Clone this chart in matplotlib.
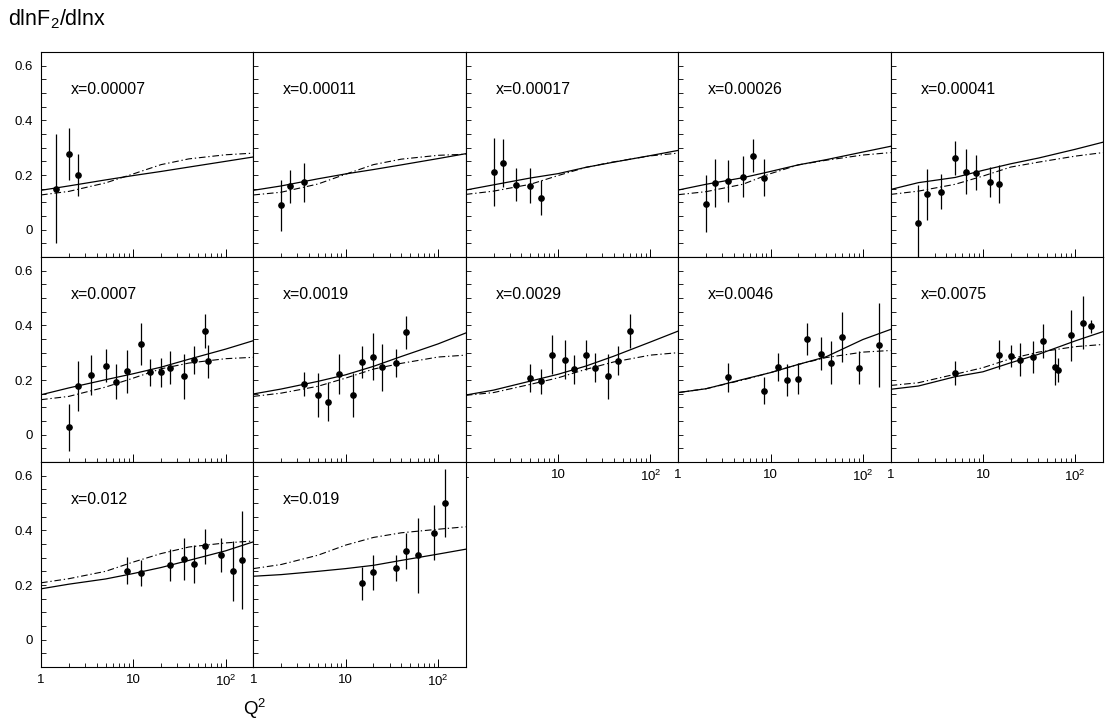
import matplotlib
matplotlib.use("Agg")
from matplotlib import pyplot as plt
from matplotlib.ticker import FixedLocator, LogLocator, MultipleLocator, NullFormatter

plt.rcParams['font.family'] = ['Liberation Sans', 'DejaVu Sans']
plt.rcParams['mathtext.fontset'] = 'custom'
plt.rcParams['mathtext.rm'] = 'Liberation Sans'
plt.rcParams['mathtext.it'] = 'Liberation Sans:italic'

# Panel labels (x values)
x_labels = ["x=0.00007", "x=0.00011", "x=0.00017", "x=0.00026", "x=0.00041",
            "x=0.0007", "x=0.0019", "x=0.0029", "x=0.0046", "x=0.0075",
            "x=0.012", "x=0.019"]

# Data points: Q2, dlnF2/dlnx, error
q_points = [
    [1.45, 2.0, 2.5],
    [2.0, 2.5, 3.5],
    [2.0, 2.5, 3.5, 5.0, 6.5],
    [2.0, 2.5, 3.5, 5.0, 6.5, 8.5],
    [2.0, 2.5, 3.5, 5.0, 6.5, 8.5, 12, 15],
    [2, 2.5, 3.5, 5, 6.5, 8.5, 12, 15, 20, 25, 35, 45, 60, 65],
    [3.5, 5, 6.5, 8.5, 12, 15, 20, 25, 35, 45],
    [5, 6.5, 8.5, 12, 15, 20, 25, 35, 45, 60],
    [3.5, 8.5, 12, 15, 20, 25, 35, 45, 60, 90, 150],
    [5, 15, 20, 25, 35, 45, 60, 65, 90, 120, 150],
    [8.5, 12, 25, 35, 45, 60, 90, 120, 150],
    [15, 20, 35, 45, 60, 90, 120],
]
f_points = [
    [0.15, 0.277, 0.201],
    [0.089, 0.158, 0.173],
    [0.212, 0.243, 0.165, 0.161, 0.117],
    [0.095, 0.172, 0.177, 0.194, 0.271, 0.19],
    [0.023, 0.129, 0.139, 0.263, 0.212, 0.208, 0.175, 0.167],
    [0.028, 0.177, 0.217, 0.253, 0.193, 0.232, 0.332, 0.228, 0.228, 0.245, 0.213, 0.272, 0.38, 0.268],
    [0.185, 0.144, 0.121, 0.221, 0.146, 0.266, 0.285, 0.246, 0.262, 0.374],
    [0.208, 0.195, 0.293, 0.275, 0.239, 0.293, 0.244, 0.213, 0.271, 0.379],
    [0.21, 0.161, 0.247, 0.199, 0.205, 0.349, 0.296, 0.263, 0.357, 0.245, 0.328],
    [0.227, 0.293, 0.289, 0.275, 0.284, 0.344, 0.247, 0.236, 0.363, 0.41, 0.397],
    [0.253, 0.245, 0.273, 0.294, 0.278, 0.341, 0.31, 0.251, 0.292],
    [0.206, 0.246, 0.262, 0.325, 0.309, 0.392, 0.499],
]
f_errors = [
    [0.20, 0.095, 0.077],
    [0.093, 0.06, 0.071],
    [0.125, 0.087, 0.06, 0.065, 0.065],
    [0.104, 0.088, 0.077, 0.075, 0.06, 0.068],
    [0.14, 0.092, 0.064, 0.063, 0.082, 0.064, 0.055, 0.068],
    [0.086, 0.092, 0.073, 0.059, 0.064, 0.078, 0.077, 0.05, 0.053, 0.061, 0.082, 0.051, 0.062, 0.06],
    [0.045, 0.08, 0.07, 0.074, 0.08, 0.057, 0.086, 0.085, 0.05, 0.061],
    [0.051, 0.045, 0.07, 0.073, 0.052, 0.055, 0.053, 0.081, 0.052, 0.061],
    [0.053, 0.049, 0.05, 0.058, 0.056, 0.059, 0.06, 0.078, 0.092, 0.06, 0.154],
    [0.044, 0.052, 0.04, 0.06, 0.058, 0.062, 0.066, 0.045, 0.093, 0.097, 0.024],
    [0.048, 0.048, 0.06, 0.077, 0.07, 0.063, 0.062, 0.11, 0.18],
    [0.06, 0.065, 0.049, 0.066, 0.137, 0.1, 0.124],
]

# Model curves read at these Q2 values
curve_q = [1, 2, 5, 10, 20, 40, 100, 200]
solid_vals = [
    [0.144, 0.16, 0.182, 0.198, 0.213, 0.229, 0.25, 0.266],
    [0.144, 0.16, 0.186, 0.204, 0.22, 0.237, 0.26, 0.278],
    [0.145, 0.164, 0.189, 0.205, 0.228, 0.247, 0.271, 0.29],
    [0.145, 0.166, 0.19, 0.213, 0.237, 0.256, 0.284, 0.305],
    [0.147, 0.172, 0.191, 0.217, 0.241, 0.262, 0.294, 0.32],
    [0.146, 0.171, 0.201, 0.223, 0.247, 0.276, 0.313, 0.344],
    [0.149, 0.167, 0.195, 0.219, 0.25, 0.286, 0.332, 0.372],
    [0.145, 0.163, 0.196, 0.221, 0.251, 0.287, 0.339, 0.379],
    [0.154, 0.168, 0.202, 0.227, 0.257, 0.285, 0.348, 0.385],
    [0.166, 0.178, 0.212, 0.23, 0.263, 0.294, 0.343, 0.377],
    [0.186, 0.203, 0.222, 0.242, 0.264, 0.29, 0.325, 0.358],
    [0.232, 0.238, 0.25, 0.26, 0.272, 0.29, 0.313, 0.331],
]
dashdot_vals = [
    [0.127, 0.14, 0.171, 0.204, 0.238, 0.259, 0.274, 0.28],
    [0.127, 0.137, 0.167, 0.203, 0.238, 0.258, 0.272, 0.276],
    [0.129, 0.141, 0.166, 0.198, 0.228, 0.248, 0.27, 0.28],
    [0.128, 0.139, 0.166, 0.205, 0.237, 0.254, 0.273, 0.282],
    [0.129, 0.141, 0.166, 0.196, 0.229, 0.247, 0.269, 0.282],
    [0.128, 0.14, 0.174, 0.207, 0.241, 0.262, 0.278, 0.283],
    [0.14, 0.152, 0.177, 0.207, 0.24, 0.261, 0.284, 0.291],
    [0.144, 0.154, 0.184, 0.208, 0.239, 0.266, 0.291, 0.3],
    [0.154, 0.168, 0.2, 0.227, 0.257, 0.282, 0.302, 0.308],
    [0.18, 0.19, 0.221, 0.245, 0.278, 0.302, 0.322, 0.33],
    [0.208, 0.223, 0.25, 0.284, 0.315, 0.339, 0.354, 0.361],
    [0.26, 0.275, 0.309, 0.346, 0.374, 0.391, 0.404, 0.413],
]

y_ticks = [0, 0.2, 0.4, 0.6]
y_ticklabels = ["0", "0.2", "0.4", "0.6"]
x_ticks = [1, 10, 100]
x_ticklabels = ["1", "10", "$10^2$"]

# Layout (pixels)
W, H = 1105, 720
LEFT, TOP = 41, 52
PW, PH = 212.4, 205

fig = plt.figure(figsize=(W / 100, H / 100), dpi=100)

for i in range(12):
    row, col = divmod(i, 5)
    ax = fig.add_axes([(LEFT + col * PW) / W, 1 - (TOP + (row + 1) * PH) / H, PW / W, PH / H])
    ax.set_xscale('log')

    ax.plot(curve_q, solid_vals[i], color='black', lw=0.9)
    ax.plot(curve_q, dashdot_vals[i], color='black', lw=0.8, dashes=[6, 2.5, 1.2, 2.5])
    ax.errorbar(q_points[i], f_points[i], yerr=f_errors[i], fmt='o', color='black',
                ms=3.8, elinewidth=0.9, capsize=0)

    ax.set_xlim(1, 200)
    ax.set_ylim(-0.1, 0.65)
    ax.text(0.14, 0.794, x_labels[i], transform=ax.transAxes, fontsize=11.5, va='baseline')

    ax.xaxis.set_major_locator(FixedLocator(x_ticks))
    ax.xaxis.set_minor_locator(LogLocator(base=10, subs=range(2, 10)))
    ax.xaxis.set_minor_formatter(NullFormatter())
    ax.set_yticks(y_ticks)
    ax.yaxis.set_minor_locator(MultipleLocator(0.05))

    bottom = (row == 2) or (row == 1 and col >= 2)
    if bottom:
        ax.set_xticklabels(x_ticklabels)
    else:
        ax.set_xticklabels([])
    if col == 0:
        ax.set_yticklabels(y_ticklabels)
    else:
        ax.set_yticklabels([])

    ax.tick_params(axis='x', which='major', direction='in', length=5.8, width=0.7,
                   top=False, labelsize=9.5, pad=5)
    ax.tick_params(axis='x', which='minor', direction='in', length=2.8, width=0.6, top=False)
    ax.tick_params(axis='y', which='both', direction='in', length=3.6, width=0.6,
                   right=False, labelsize=9.5, pad=6)
    for sp in ax.spines.values():
        sp.set_linewidth(0.8)

fig.text(8 / W, 1 - 25 / H, "dlnF$_2$/dlnx", fontsize=15.5, va='baseline')
fig.text(243 / W, 1 - 715 / H, "Q$^2$", fontsize=13.5, va='baseline')

plt.savefig("out.png", dpi=100)
